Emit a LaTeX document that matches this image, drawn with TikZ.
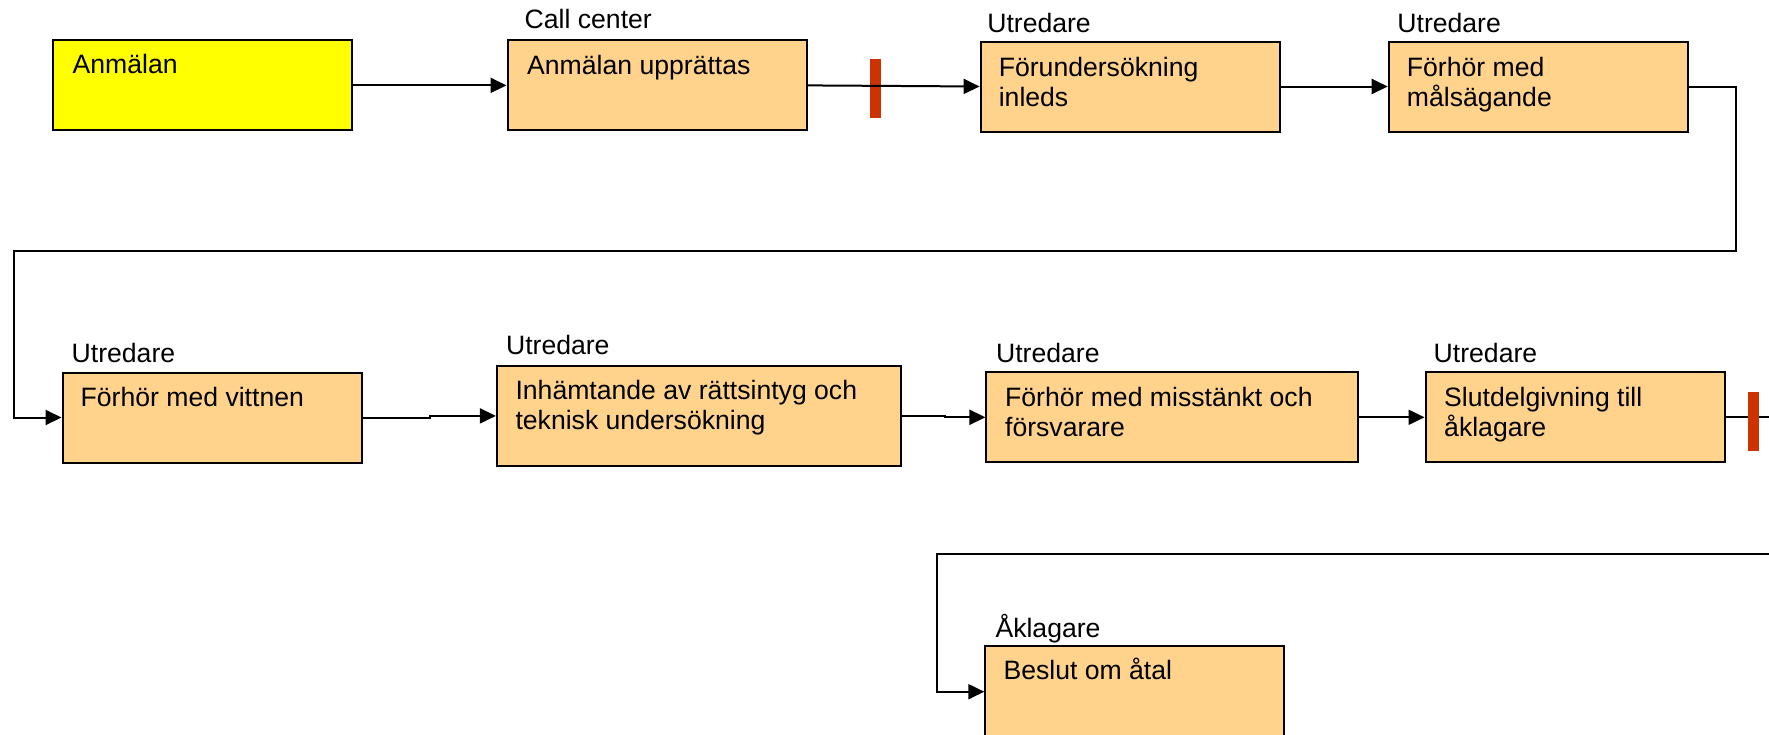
\documentclass[tikz,border=0pt]{standalone}
\usepackage{fontspec}
\setmainfont{Liberation Sans}
\usetikzlibrary{arrows.meta,calc}
\definecolor{peach}{HTML}{FFD38C}
\definecolor{barred}{HTML}{CC3300}
\definecolor{yel}{HTML}{FFFF00}
\begin{document}
\begin{tikzpicture}[x=1pt,y=-1pt,
  box/.style={draw=black, line width=2pt, fill=peach, inner sep=0pt, minimum width=299pt, minimum height=90pt},
  txt/.style={inner sep=0pt, anchor=base west, font=\fontsize{26.6}{30}\selectfont},
  role/.style={inner sep=0pt, anchor=base west, font=\fontsize{26.6}{30}\selectfont},
  conn/.style={line width=2pt, draw=black},
  arr/.style={conn, -{Triangle[length=16pt,width=15pt]}},
  bar/.style={fill=barred, draw=none, inner sep=0pt, minimum width=10.5pt, minimum height=59.3pt}]
\fill[white] (0,0) rectangle (1769,734);
\clip (0,0) rectangle (1769,734);

% boxes
\node[box, fill=yel] (b1) at (202.5,84.6) {};
\node[box] (b2) at (657,85.4) {};
\node[box] (b3) at (1130.1,86.5) {};
\node[box] (b4) at (1538.2,86.5) {};
\node[box] (b5) at (212,417.5) {};
\node[box, minimum width=404.3pt, minimum height=100.3pt] (b6) at (699,415.9) {};
\node[box, minimum width=371.2pt] (b7) at (1172,417.3) {};
\node[box] (b8) at (1575,417.3) {};
\node[box, minimum height=91.4pt] (b9) at (1134.8,691.7) {};

% box texts
\node[txt] (t1) at ($(b1.north west)+(20.5,35.3)$) {Anmälan};
\node[txt] (t2) at ($(b2.north west)+(20.5,34.7)$) {Anmälan upprättas};
\node[txt] (t3) at ($(b3.north west)+(19,35.5)$) {\vtop{\hbox{Förundersökning}\hbox{inleds}}};
\node[txt] (t4) at ($(b4.north west)+(19,35.5)$) {\vtop{\hbox{Förhör med}\hbox{målsägande}}};
\node[txt] (t5) at ($(b5.north west)+(19,35)$) {Förhör med vittnen};
\node[txt] (t6) at ($(b6.north west)+(19.5,35)$) {\vtop{\hbox{Inhämtande av rättsintyg och}\hbox{teknisk undersökning}}};
\node[txt] (t7) at ($(b7.north west)+(19.5,35)$) {\vtop{\hbox{Förhör med misstänkt och}\hbox{försvarare}}};
\node[txt] (t8) at ($(b8.north west)+(19.5,35)$) {\vtop{\hbox{Slutdelgivning till}\hbox{åklagare}}};
\node[txt] (t9) at ($(b9.north west)+(19,34)$) {Beslut om åtal};

% role labels
\node[role] (l2) at ($(b2.north west)+(18,-11)$) {Call center};
\node[role] (l3) at ($(b3.north west)+(7.5,-8)$) {Utredare};
\node[role] (l4) at ($(b4.north west)+(9.5,-8)$) {Utredare};
\node[role] (l5) at ($(b5.north west)+(10,-9)$) {Utredare};
\node[role] (l6) at ($(b6.north west)+(10,-10.7)$) {Utredare};
\node[role] (l7) at ($(b7.north west)+(10.5,-9)$) {Utredare};
\node[role] (l8) at ($(b8.north west)+(9,-9)$) {Utredare};
\node[role] (l9) at ($(b9.north west)+(11,-7.7)$) {Åklagare};

% bar 1 (under the line)
\node[bar] (r1) at (875.7,88.6) {};

% free ends / bends
\coordinate (c1) at (1735.6,250.7);
\coordinate (c2) at (14,250.7);
\coordinate (e1) at (1780,417.3);
\coordinate (e2) at (1780,553.5);
\coordinate (c3) at (937.3,553.5);

% connectors
\draw[arr] (b1.east) -- ++(77,0) |- (b2.west);
\draw[arr] (b2.east) -- (b3.west);
\draw[arr] (b3.east) -- (b4.west);
\draw[arr] (b4.east) -| (c1) -- (c2) |- (b5.west);
\draw[arr] (b5.east) -- ++(67,0) |- (b6.west);
\draw[arr] (b6.east) -- ++(42.6,0) |- (b7.west);
\draw[arr] (b7.east) -- (b8.west);
\draw[conn] (b8.east) -- (e1);
\draw[arr] (e2) -- (c3) |- (b9.west);

% bar 2 (over the line)
\node[bar] (r2) at (1753.3,421.3) {};
\end{tikzpicture}
\end{document}
